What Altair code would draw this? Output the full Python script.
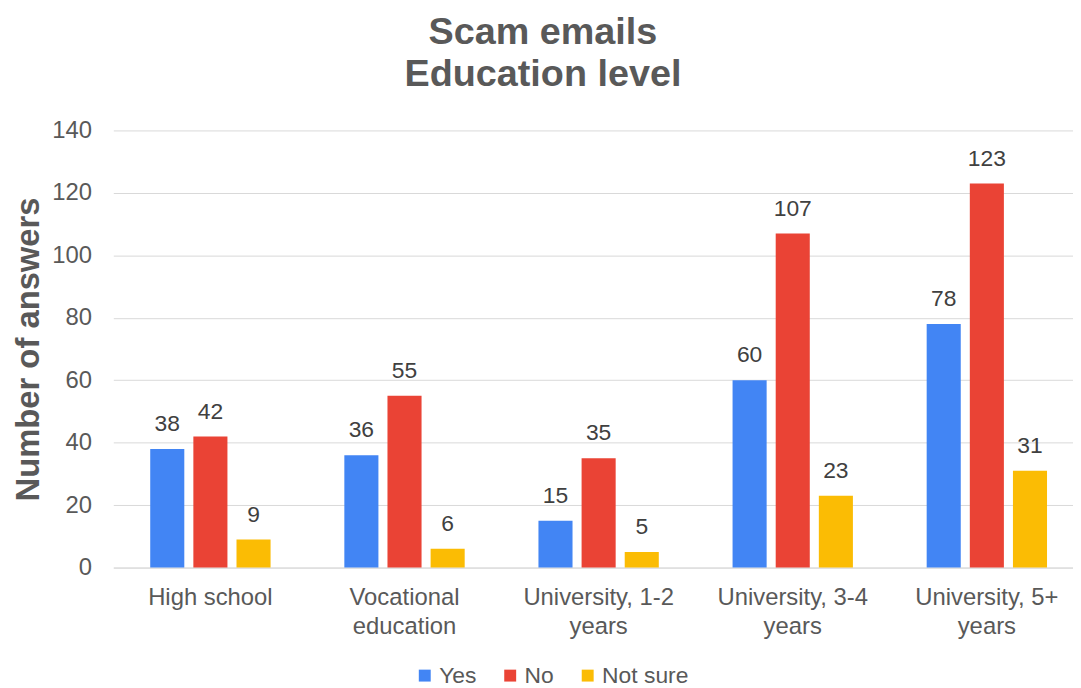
import altair as alt
import pandas as pd

categories = ["High school", "Vocational|education", "University, 1-2|years",
              "University, 3-4|years", "University, 5+|years"]
series = ["Yes", "No", "Not sure"]
yes_vals = [38, 36, 15, 60, 78]
no_vals = [42, 55, 35, 107, 123]
notsure_vals = [9, 6, 5, 23, 31]
colors = ["#4285F4", "#EA4335", "#FBBC04"]

rows = []
for i, c in enumerate(categories):
    for s, vals in zip(series, [yes_vals, no_vals, notsure_vals]):
        rows.append({"category": c, "series": s, "value": vals[i]})
df = pd.DataFrame(rows)

FONT = "Liberation Sans"
GRAY = "#595959"

x = alt.X("category:N", sort=categories, title=None,
          scale=alt.Scale(paddingInner=0.38, paddingOuter=0.162, align=0.587),
          axis=alt.Axis(labelExpr="split(datum.label, '|')", labelAngle=0,
                        labelFontSize=24, labelColor=GRAY, labelFont=FONT,
                        labelLineHeight=29, labelPadding=18, ticks=False,
                        domainColor="#d9d9d9", grid=False))
xoff = alt.XOffset("series:N", sort=series, scale=alt.Scale(paddingInner=0.21))
y = alt.Y("value:Q", title="Number of answers",
          scale=alt.Scale(domain=[0, 140]),
          axis=alt.Axis(values=list(range(0, 141, 20)), labelFontSize=24,
                        labelColor=GRAY, labelFont=FONT, labelPadding=22,
                        ticks=False, domain=False, gridColor="#d9d9d9",
                        titleFontSize=33, titleColor=GRAY, titleFont=FONT,
                        titleFontWeight="bold", titlePadding=6))

base = alt.Chart(df).encode(x=x, xOffset=xoff, y=y)

bars = base.mark_bar().encode(
    color=alt.Color("series:N", sort=series,
                    scale=alt.Scale(domain=series, range=colors),
                    legend=alt.Legend(title=None, orient="none", direction="horizontal",
                                      legendX=302, legendY=537,
                                      symbolType="square", symbolSize=144,
                                      labelFontSize=23, labelColor=GRAY,
                                      labelFont=FONT, columnPadding=22, labelOffset=3,
                                      symbolStrokeWidth=0))
)
labels = base.mark_text(dy=-25, fontSize=23, color="#404040", font=FONT).encode(
    text="value:Q")

chart = alt.layer(bars, labels).properties(
    width=966, height=440,
    title=alt.Title(["Scam emails", "Education level"], fontSize=38, font=FONT,
                    fontWeight="bold", color=GRAY, lineHeight=42, offset=25,
                    anchor="middle", frame="bounds"),
    padding={"left": 4, "top": 4, "right": 0, "bottom": 0},
).configure_view(stroke=None)

chart.save("out.html", embed_options={"renderer": "svg", "actions": False})
